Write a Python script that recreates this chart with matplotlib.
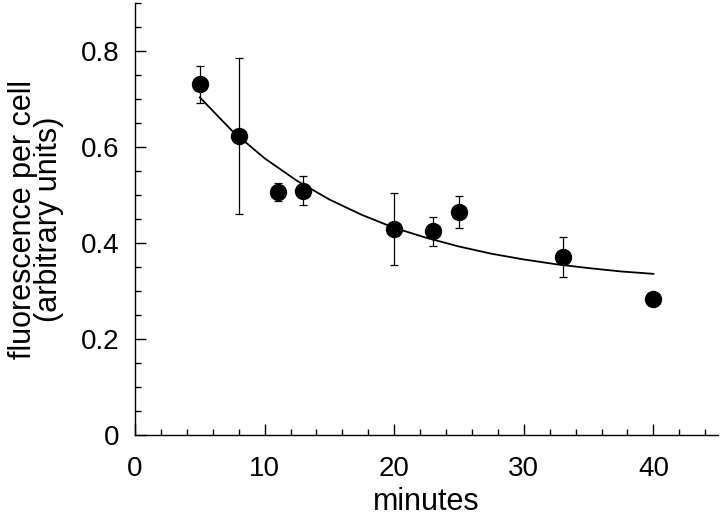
import matplotlib
matplotlib.use("Agg")
import matplotlib.pyplot as plt
from matplotlib.ticker import MultipleLocator

# measured points (minutes, fluorescence, error)
minutes = [5, 8, 11, 13, 20, 23, 25, 33, 40]
fluor = [0.731, 0.624, 0.506, 0.509, 0.429, 0.425, 0.465, 0.371, 0.283]
err = [0.039, 0.163, 0.019, 0.030, 0.075, 0.030, 0.033, 0.042, 0.0]

# fitted decay curve
curve_x = [5, 7.5, 10, 12.5, 15, 17.5, 20, 22.5, 25, 27.5, 30, 32.5, 35, 37.5, 40]
curve_y = [0.704, 0.634, 0.577, 0.530, 0.491, 0.459, 0.432, 0.411, 0.393,
           0.378, 0.366, 0.356, 0.348, 0.341, 0.336]

plt.rcParams["font.family"] = ["Liberation Sans", "DejaVu Sans"]

fig = plt.figure(figsize=(7.2, 5.2), dpi=100)
ax = fig.add_axes([0.1875, 0.1635, 0.81, 0.83])

ax.plot(curve_x, curve_y, color="black", linewidth=1.3, zorder=2)
ax.errorbar(minutes, fluor, yerr=err, fmt="o", color="black", markersize=11.5,
            ecolor="black", elinewidth=0.9, capsize=2.6, capthick=0.9, zorder=3)

ax.set_xlim(0, 45)
ax.set_ylim(0, 0.9)
ax.xaxis.set_major_locator(MultipleLocator(10))
ax.xaxis.set_minor_locator(MultipleLocator(2))
ax.yaxis.set_major_locator(MultipleLocator(0.2))
ax.yaxis.set_minor_locator(MultipleLocator(0.05))
ax.set_yticks([0, 0.2, 0.4, 0.6, 0.8])
ax.set_yticklabels(["0", "0.2", "0.4", "0.6", "0.8"])

ax.spines["top"].set_visible(False)
ax.spines["right"].set_visible(False)
for s in ("left", "bottom"):
    ax.spines[s].set_linewidth(1.0)

ax.tick_params(which="major", direction="in", length=8, width=1.0,
               labelsize=20)
ax.tick_params(axis="x", which="major", pad=15)
ax.tick_params(axis="y", which="major", pad=11)
ax.tick_params(which="minor", direction="in", length=4.5, width=1.0)

ax.set_xlabel("minutes", fontsize=22, labelpad=4)
ax.set_ylabel("fluorescence per cell\n(arbitrary units)", fontsize=22,
              linespacing=0.85, labelpad=12)

fig.savefig("out.png", dpi=100)
